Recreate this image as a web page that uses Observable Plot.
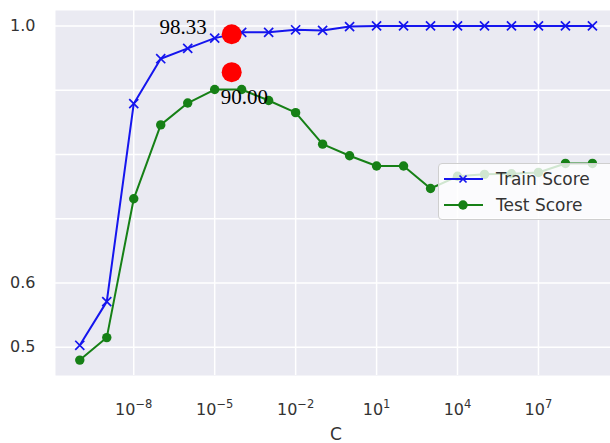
<!DOCTYPE html>
<html>
<head>
<meta charset="utf-8">
<script src="https://cdn.jsdelivr.net/npm/d3@7"></script>
<script src="https://cdn.jsdelivr.net/npm/@observablehq/plot@0.6"></script>
<style>
  body { margin: 0; background: #fff; }
  #wrap { position: relative; width: 610px; height: 443px; overflow: hidden; font-family: "DejaVu Sans", sans-serif; }
  #legend { position: absolute; left: 438px; top: 163px; width: 190px; height: 57px; background: rgba(255,255,255,0.8);
    border: 1px solid #cfcfcf; border-radius: 4px; box-sizing: border-box; }
  .row { position: absolute; left: 4px; height: 26px; display: flex; align-items: center; }
  .row span { font-size: 17px; color: #333; margin-left: 13px; }
</style>
</head>
<body>
<div id="wrap"></div>
<script>
const C = [1e-10, 1e-9, 1e-8, 1e-7, 1e-6, 1e-5, 1e-4, 1e-3, 1e-2, 1e-1, 1e0, 1e1, 1e2, 1e3, 1e4, 1e5, 1e6, 1e7, 1e8, 1e9];
const trainScore = [0.503, 0.571, 0.879, 0.949, 0.965, 0.981, 0.990, 0.990, 0.994, 0.993, 0.999, 1.0, 1.0, 1.0, 1.0, 1.0, 1.0, 1.0, 1.0, 1.0];
const testScore = [0.480, 0.515, 0.731, 0.846, 0.880, 0.901, 0.901, 0.884, 0.865, 0.816, 0.798, 0.782, 0.782, 0.747, 0.766, 0.769, 0.770, 0.772, 0.786, 0.786];
const xTicks = [1e-8, 1e-5, 1e-2, 1e1, 1e4, 1e7];
const xTickExponents = ["\u22128", "\u22125", "\u22122", "1", "4", "7"];
const yGrid = [0.5, 0.6, 0.7, 0.8, 0.9, 1.0];
const yTicks = [0.5, 0.6, 1.0];
const bestC = [10 ** -4.37, 10 ** -4.37];
const bestV = [0.987, 0.928];
const bestLabels = ["98.33", "90.00"];

const train = C.map((c, i) => ({c, v: trainScore[i]}));
const test = C.map((c, i) => ({c, v: testScore[i]}));
const best = bestC.map((c, i) => ({c, v: bestV[i], label: bestLabels[i]}));
const tickIndex = d => xTicks.findIndex(t => Math.abs(Math.log10(t) - Math.log10(d)) < 1e-6);
const tickLabel = d => { const k = tickIndex(d); return k >= 0 ? "10^" + xTickExponents[k] : ""; };

const chart = Plot.plot({
  width: 610,
  height: 443,
  marginLeft: 55,
  marginRight: 0,
  marginTop: 10,
  marginBottom: 68,
  style: {fontFamily: "DejaVu Sans, sans-serif", fontSize: "16px", color: "#333", background: "#fff"},
  x: {type: "log", domain: [10 ** -10.9, 10 ** 9.67]},
  y: {domain: [0.456, 1.024]},
  marks: [
    Plot.frame({fill: "#eaeaf2", stroke: null}),
    Plot.ruleY(yGrid, {stroke: "#fff", strokeWidth: 1.5}),
    Plot.ruleX(xTicks, {stroke: "#fff", strokeWidth: 1.5}),
    Plot.axisX({ticks: xTicks, tickFormat: tickLabel, tickSize: 0, tickPadding: 28, label: null, fontSize: 16}),
    Plot.axisY({ticks: yTicks, tickFormat: d => d.toFixed(1), tickSize: 0, tickPadding: 20, label: null, fontSize: 16}),
    Plot.text(["C"], {frameAnchor: "bottom", dy: 64, dx: 3, lineAnchor: "bottom", fontSize: 17, fill: "#333"}),
    Plot.line(train, {x: "c", y: "v", stroke: "#1515ee", strokeWidth: 2}),
    Plot.dot(train, {x: "c", y: "v", symbol: "times", r: 4.2, stroke: "#1515ee", strokeWidth: 1.7}),
    Plot.line(test, {x: "c", y: "v", stroke: "#168016", strokeWidth: 2}),
    Plot.dot(test, {x: "c", y: "v", r: 4.7, fill: "#168016", stroke: null}),
    Plot.dot(best, {x: "c", y: "v", r: 10, fill: "#ff0000", stroke: null}),
    Plot.text(best.slice(0, 1), {x: "c", y: "v", text: "label", textAnchor: "end", dx: -25, dy: -7, fontFamily: "Liberation Serif, Times New Roman, serif", fontSize: 21, fill: "#000"}),
    Plot.text(best.slice(1), {x: "c", y: "v", text: "label", textAnchor: "start", dx: -11, dy: 25, fontFamily: "Liberation Serif, Times New Roman, serif", fontSize: 21, fill: "#000"})
  ]
});

// Render "10^e" tick labels with a real superscript tspan
chart.querySelectorAll('g[aria-label="x-axis tick label"] text').forEach(t => {
  const s = t.textContent;
  const p = s.indexOf("^");
  if (p < 0) return;
  const base = s.slice(0, p), exp = s.slice(p + 1);
  t.textContent = "";
  t.appendChild(document.createTextNode(base));
  const sup = document.createElementNS("http://www.w3.org/2000/svg", "tspan");
  sup.setAttribute("font-size", "11.5");
  sup.setAttribute("dy", "-7");
  sup.textContent = exp;
  t.appendChild(sup);
});

const wrap = document.getElementById("wrap");
wrap.appendChild(chart);

const legend = document.createElement("div");
legend.id = "legend";
legend.innerHTML = `
  <div class="row" style="top:2px">
    <svg width="40" height="20"><line x1="1" y1="10" x2="40" y2="10" stroke="#1515ee" stroke-width="2"/>
      <path d="M16.5,6.5L23.5,13.5M16.5,13.5L23.5,6.5" stroke="#1515ee" stroke-width="1.7"/></svg>
    <span>Train Score</span>
  </div>
  <div class="row" style="top:28px">
    <svg width="40" height="20"><line x1="1" y1="10" x2="40" y2="10" stroke="#168016" stroke-width="2"/>
      <circle cx="20" cy="10" r="4.7" fill="#168016"/></svg>
    <span>Test Score</span>
  </div>`;
wrap.appendChild(legend);
</script>
</body>
</html>
